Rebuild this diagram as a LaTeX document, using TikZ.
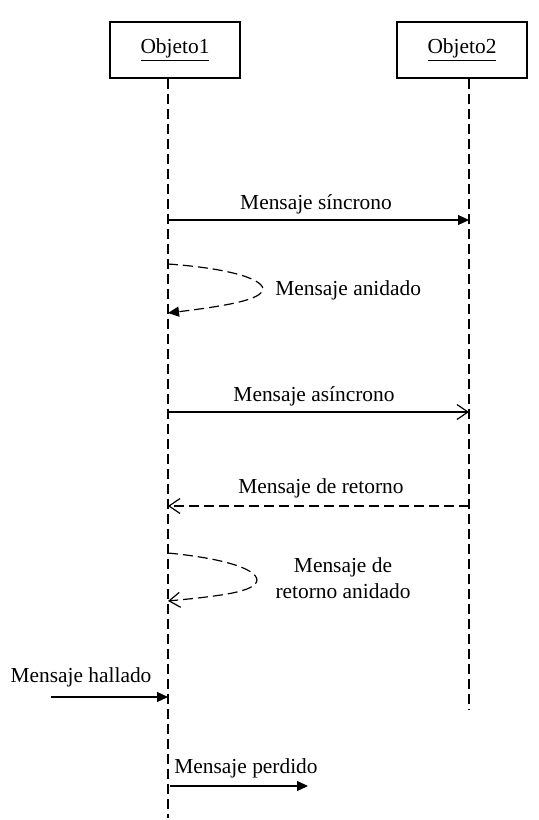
\documentclass[tikz,border=0pt]{standalone}
\usepackage{fontspec}
\setmainfont{Liberation Serif}
\usetikzlibrary{arrows.meta}
\begin{document}
\begin{tikzpicture}[x=0.5pt,y=-0.5pt,
  every node/.style={font=\fontsize{10.7}{13}\selectfont, inner sep=0pt},
  objbox/.style={draw, line width=0.6pt, minimum width=65pt, minimum height=28pt},
  lifeline/.style={line width=0.6pt, dash pattern=on 5pt off 2.5pt},
  msg/.style={line width=0.6pt},
  ret/.style={line width=0.6pt, dash pattern=on 5pt off 2.5pt},
  filled/.style={-{Triangle[length=5.5pt,width=5pt]}},
  open/.style={-{Straight Barb[length=5.5pt,width=7.5pt]}},
  lbl/.style={align=center}]
\useasboundingbox (0,0) rectangle (538,820);
\node[objbox] (o1) at (175,50) {\underline{Objeto1}};
\node[objbox] (o2) at (462,50) {\underline{Objeto2}};
\coordinate (l1b) at (168,818);
\coordinate (l2b) at (469,710);
\draw[lifeline] (o1.south -| l1b) -- (l1b);
\draw[lifeline] (o2.south -| l2b) -- (l2b);
% synchronous
\coordinate (s1) at (168,220); \coordinate (s2) at (469,220);
\draw[msg,filled] (s1) -- (s2);
\node[lbl] (ts) at (316,204) {Mensaje síncrono};
% nested
\coordinate (n1) at (168,264); \coordinate (n2) at (263,289); \coordinate (n3) at (168,313);
\draw[ret,filled] (n1) .. controls (225,268) and (262,278) .. (n2) .. controls (262,300) and (225,306) .. (n3);
\node[anchor=west] (tn) at (275,290) {Mensaje anidado};
% asynchronous
\coordinate (a1) at (168,412); \coordinate (a2) at (469,412);
\draw[msg,open] (a1) -- (a2);
\node[lbl] (ta) at (314,396) {Mensaje asíncrono};
% return
\coordinate (r1) at (469,506); \coordinate (r2) at (168,506);
\draw[ret,open] (r1) -- (r2);
\node[lbl] (tr) at (321,488) {Mensaje de retorno};
% nested return
\coordinate (m1) at (168,553); \coordinate (m2) at (257,580); \coordinate (m3) at (168,601);
\draw[ret,open] (m1) .. controls (220,558) and (256,568) .. (m2) .. controls (256,592) and (220,596) .. (m3);
\node[lbl] (tm) at (343,578) {Mensaje de\\retorno anidado};
% found
\coordinate (f1) at (51,697); \coordinate (f2) at (168,697);
\draw[msg,filled] (f1) -- (f2);
\node[lbl] (tf) at (81,677) {Mensaje hallado};
% lost
\coordinate (p1) at (170,786); \coordinate (p2) at (308,786);
\draw[msg,filled] (p1) -- (p2);
\node[anchor=west] (tp) at (174,768) {Mensaje perdido};
\end{tikzpicture}
\end{document}
